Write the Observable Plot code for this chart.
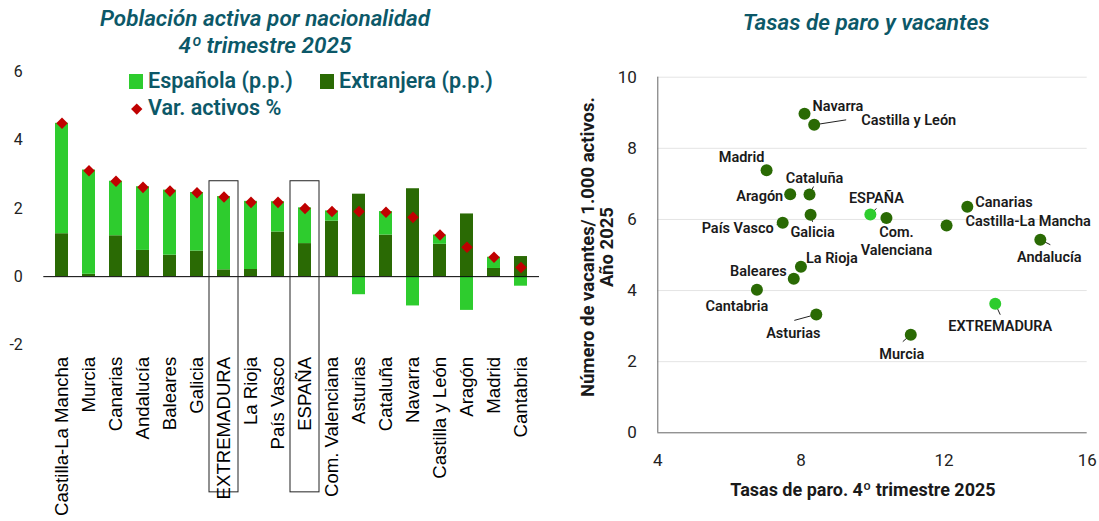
<!DOCTYPE html>
<html>
<head>
<meta charset="utf-8">
<script src="https://cdn.jsdelivr.net/npm/d3@7"></script>
<script src="https://cdn.jsdelivr.net/npm/@observablehq/plot@0.6"></script>
<style>
  body { margin: 0; background: #fff; }
  #wrap { position: relative; width: 1099px; height: 521px; overflow: hidden; background: #fff; font-family: Roboto, sans-serif; }
  .title { position: absolute; text-align: center; color: #0c5868; font-style: italic; font-weight: 600; font-size: 22.5px; line-height: 27px; white-space: nowrap; }
  .leg { position: absolute; color: #0c5868; font-weight: 600; font-size: 21.5px; line-height: 26px; white-space: nowrap; }
  .sw { position: absolute; }
  #left, #right { position: absolute; top: 60px; }
  #left { left: 0; }
  #right { left: 560px; }
  #ylab { position: absolute; width: 360px; height: 38px; left: 417.5px; top: 228px; transform: rotate(-90deg); transform-origin: center; text-align: center; font-weight: 700; font-size: 18.5px; line-height: 19px; color: #1a1a1a; white-space: nowrap; }
  #xlab { position: absolute; left: 663px; width: 400px; top: 479px; text-align: center; font-weight: 700; font-size: 18px; line-height: 22px; color: #1a1a1a; white-space: nowrap; }
</style>
</head>
<body>
<div id="wrap">
  <div class="title" style="left:65px;width:400px;top:5px;">Población activa por nacionalidad<br>4º trimestre 2025</div>
  <div class="title" style="left:666px;width:400px;top:9px;">Tasas de paro y vacantes</div>
  <div id="left"></div>
  <div id="right"></div>
  <div class="sw" style="left:129px;top:74px;width:14px;height:15px;background:#2ecc2e;"></div>
  <div class="leg" style="left:148px;top:68px;">Española (p.p.)</div>
  <div class="sw" style="left:320px;top:74px;width:14px;height:15px;background:#2a6a04;"></div>
  <div class="leg" style="left:339px;top:68px;">Extranjera (p.p.)</div>
  <div class="sw" style="left:132.5px;top:104.5px;width:7.5px;height:7.5px;background:#c00000;transform:rotate(45deg);"></div>
  <div class="leg" style="left:148px;top:95px;">Var. activos %</div>
  <div id="ylab">Número de vacantes/ 1.000 activos.<br>Año 2025</div>
  <div id="xlab">Tasas de paro. 4º trimestre 2025</div>
</div>
<script>
// ---------- Data: left chart ----------
const regions = ["Castilla-La Mancha","Murcia","Canarias","Andalucía","Baleares","Galicia","EXTREMADURA","La Rioja","País Vasco","ESPAÑA","Com. Valenciana","Asturias","Cataluña","Navarra","Castilla y León","Aragón","Madrid","Cantabria"];
const espanola   = [3.24, 3.06, 1.60, 1.87, 1.91, 1.72, 2.15, 2.00, 0.89, 1.05, 0.30, -0.53, 0.69, -0.86, 0.27, -0.99, 0.33, -0.28];
const extranjera = [1.26, 0.07, 1.20, 0.77, 0.63, 0.75, 0.20, 0.21, 1.31, 0.97, 1.63, 2.42, 1.22, 2.58, 0.95, 1.84, 0.24, 0.59];
const varActivos = [4.50, 3.11, 2.80, 2.62, 2.51, 2.46, 2.34, 2.18, 2.18, 2.00, 1.91, 1.91, 1.89, 1.74, 1.22, 0.86, 0.57, 0.27];
const highlighted = ["EXTREMADURA","ESPAÑA"];
const seriesNames = ["Extranjera (p.p.)","Española (p.p.)"];
const leftYTicks = [-2, 0, 2, 4, 6];

// ---------- Data: right chart ----------
const scatterNames = ["Navarra","Castilla y León","Madrid","Aragón","Cataluña","ESPAÑA","Com. Valenciana","Galicia","País Vasco","Canarias","Castilla-La Mancha","Andalucía","La Rioja","Baleares","Cantabria","Asturias","EXTREMADURA","Murcia"];
const tasaParo = [8.10, 8.37, 7.04, 7.70, 8.24, 9.94, 10.39, 8.27, 7.49, 12.65, 12.07, 14.69, 8.00, 7.80, 6.77, 8.43, 13.43, 11.07];
const vacantes = [8.97, 8.66, 7.38, 6.71, 6.70, 6.14, 6.04, 6.13, 5.91, 6.36, 5.83, 5.43, 4.67, 4.33, 4.02, 3.33, 3.63, 2.76];
const rightXTicks = [4, 8, 12, 16];
const rightYTicks = [0, 2, 4, 6, 8, 10];

// ---------- Styles ----------
const C_ESP = "#2ecc2e", C_EXT = "#2a6a04", C_VAR = "#c00000";
const labelPlacement = {
  "Navarra": {dx: 8, dy: -8, a: "start"},
  "Castilla y León": {dx: 47, dy: -5, a: "start", lead: [32, -5]},
  "Madrid": {dx: -25, dy: -14, a: "middle"},
  "Aragón": {dx: -7, dy: 1, a: "end"},
  "Cataluña": {dx: 5, dy: -17, a: "middle", lead: [4, -8]},
  "ESPAÑA": {dx: 6, dy: -17, a: "middle", lead: [6, -6]},
  "Com. Valenciana": {dx: 10, dy: 22.5, a: "middle", text: "Com.\nValenciana"},
  "Galicia": {dx: 2, dy: 17, a: "middle", lead: [2, 7]},
  "País Vasco": {dx: -9, dy: 5, a: "end", lead: [-6, 2]},
  "Canarias": {dx: 8, dy: -5, a: "start"},
  "Castilla-La Mancha": {dx: 19, dy: -5, a: "start"},
  "Andalucía": {dx: 9, dy: 17, a: "middle", lead: [10, 5]},
  "La Rioja": {dx: 5, dy: -9, a: "start"},
  "Baleares": {dx: -7, dy: -8, a: "end"},
  "Cantabria": {dx: -20, dy: 16, a: "middle"},
  "Asturias": {dx: -23, dy: 18, a: "middle", lead: [-22, 6]},
  "EXTREMADURA": {dx: 5, dy: 22, a: "middle", lead: [5, 11]},
  "Murcia": {dx: -9, dy: 19, a: "middle", lead: [-8, 7]}
};

// ---------- Left chart ----------
const stacked = [];
regions.forEach((r, i) => {
  stacked.push({region: r, serie: seriesNames[0], value: extranjera[i]});
  stacked.push({region: r, serie: seriesNames[1], value: espanola[i]});
});
const totals = regions.map((r, i) => ({region: r, value: varActivos[i]}));

const left = Plot.plot({
  width: 560, height: 461,
  marginTop: 11.7, marginBottom: 176.7, marginLeft: 43.3, marginRight: 21,
  style: {fontFamily: "Roboto, sans-serif", background: "transparent", overflow: "visible"},
  x: {domain: regions, paddingInner: 0.52, paddingOuter: 0.245, label: null},
  y: {domain: [-2, 6], label: null},
  color: {domain: seriesNames, range: [C_EXT, C_ESP]},
  marks: [
    Plot.barY(stacked, {x: "region", y: "value", fill: "serie"}),
    Plot.ruleY([0], {stroke: "#000", strokeWidth: 1}),
    Plot.dot(totals, {x: "region", y: "value", symbol: "diamond2", r: 5.2, fill: C_VAR}),
    Plot.barY(highlighted, {x: d => d, y1: () => 2.8, y2: () => -6.33, fill: "none", stroke: "#222", strokeWidth: 1, insetLeft: -8, insetRight: -8}),
    Plot.axisY(leftYTicks, {tickSize: 0, tickPadding: 21, fontSize: 16, fill: "#222", label: null, tickFormat: d => String(d)}),
    Plot.axisX({tickSize: 0, tickPadding: 12, tickRotate: -90, fontSize: 18.6, fontFamily: "'Liberation Sans', Arial, sans-serif", fill: "#000", label: null})
  ]
});
document.getElementById("left").appendChild(left);

// ---------- Right chart ----------
const pts = scatterNames.map((n, i) => ({name: n, x: tasaParo[i], y: vacantes[i], hi: highlighted.includes(n)}));

function rightOptions(extraMarks) {
  return {
    width: 539, height: 461,
    marginTop: 16.7, marginBottom: 88.7, marginLeft: 97.3, marginRight: 12.3,
    style: {fontFamily: "Roboto, sans-serif", background: "transparent", overflow: "visible"},
    x: {domain: [4, 16], label: null},
    y: {domain: [0, 10], label: null},
    marks: [
      Plot.gridY(rightYTicks.filter(t => t > 0), {stroke: "#e4e4e4", strokeOpacity: 1}),
      Plot.ruleX([4], {stroke: "#666"}),
      Plot.ruleY([0], {stroke: "#666"}),
      Plot.axisX(rightXTicks, {tickSize: 0, tickPadding: 21, fontSize: 17, fill: "#222", label: null}),
      Plot.axisY(rightYTicks, {tickSize: 0, tickPadding: 21, fontSize: 17, fill: "#222", label: null}),
      ...extraMarks,
      Plot.dot(pts, {x: "x", y: "y", r: 6, fill: d => d.hi ? C_ESP : C_EXT}),
      ...pts.map(p => {
        const L = labelPlacement[p.name];
        return Plot.text([p], {x: "x", y: "y", text: () => L.text || p.name, dx: L.dx, dy: L.dy, textAnchor: L.a, fontSize: 14.5, fontWeight: 600, fill: "#1a1a1a", lineHeight: 1.2});
      })
    ]
  };
}
const probe = Plot.plot(rightOptions([]));
const sx = probe.scale("x"), sy = probe.scale("y");
const leaders = pts.filter(p => labelPlacement[p.name].lead).map(p => {
  const [lx, ly] = labelPlacement[p.name].lead;
  return {x1: p.x, y1: p.y, x2: sx.invert(sx.apply(p.x) + lx), y2: sy.invert(sy.apply(p.y) + ly)};
});
const right = Plot.plot(rightOptions([
  Plot.link(leaders, {x1: "x1", y1: "y1", x2: "x2", y2: "y2", stroke: "#222", strokeWidth: 1})
]));
document.getElementById("right").appendChild(right);
</script>
</body>
</html>
